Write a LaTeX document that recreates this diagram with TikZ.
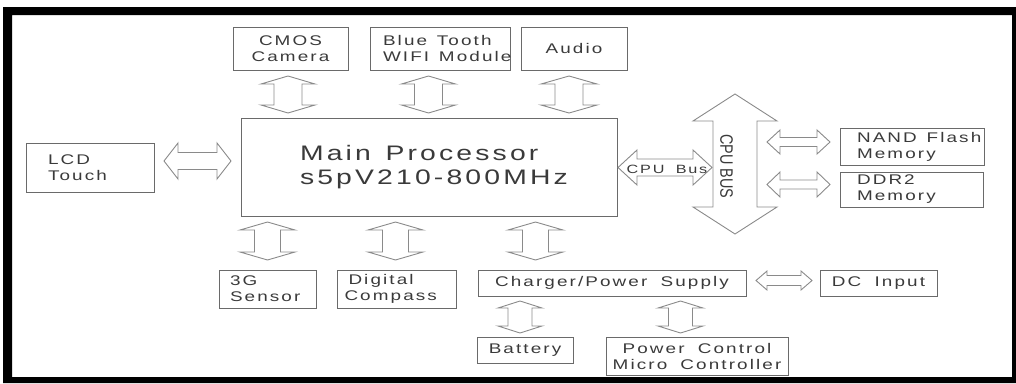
\documentclass[tikz,border=0pt]{standalone}
\usepackage{fontspec}
\setmainfont{Liberation Sans}[FakeStretch=1.35,LetterSpace=15,WordSpace=1.8]
\newfontfamily\condfont{Liberation Sans}[FakeStretch=0.8]
\definecolor{txt}{HTML}{3A3A3A}
\definecolor{boxc}{HTML}{6A6A6A}
\definecolor{arrc}{HTML}{8A8A8A}
\newcommand\wsp{\hspace{0.7em}}
% horizontal double block arrow: x1, x2, cy, shaft half, head half, head length
\newcommand\hdarr[6]{%
 \draw[blk] (#1,#3) -- ({#1+#6},{#3-#5}) -- ({#1+#6},{#3-#4}) -- ({#2-#6},{#3-#4}) -- ({#2-#6},{#3-#5}) -- (#2,#3) -- ({#2-#6},{#3+#5}) -- ({#2-#6},{#3+#4}) -- ({#1+#6},{#3+#4}) -- ({#1+#6},{#3+#5}) -- cycle;}
% vertical double block arrow: cx, y1, y2, shaft half, head half, head length
\newcommand\vdarr[6]{%
 \draw[blk] (#1,#2) -- ({#1+#5},{#2+#6}) -- ({#1+#4},{#2+#6}) -- ({#1+#4},{#3-#6}) -- ({#1+#5},{#3-#6}) -- (#1,#3) -- ({#1-#5},{#3-#6}) -- ({#1-#4},{#3-#6}) -- ({#1-#4},{#2+#6}) -- ({#1-#5},{#2+#6}) -- cycle;}
\begin{document}
\begin{tikzpicture}[x=1pt,y=-1pt,
  box/.style={draw=boxc, line width=1pt, inner sep=0pt, text=txt,
    font=\fontsize{14}{16}\selectfont, align=center},
  blk/.style={draw=arrc, line width=0.9pt, line join=miter},
  lbl/.style={text=txt, inner sep=0pt}]
\useasboundingbox (0,0) rectangle (1016,383);
\fill[black,even odd rule] (3,7) rectangle (1016,383) (12,15) rectangle (1012,377);

% top row
\node[box, minimum width=115, minimum height=43] (cmos) at (290.5,48.5) {CMOS\\Camera};
\node[box, align=left, minimum width=140, minimum height=43, text width=114, inner xsep=13] (bt) at (440,48.5) {\mbox{Blue\wsp Tooth}\\\mbox{WIFI\wsp Module}};
\node[box, minimum width=106, minimum height=43] (audio) at (574,48.5) {Audio};

% middle
\node[box, align=left, minimum width=128, minimum height=49, text width=84, inner xsep=22] (lcd) at (90,167.5) {\mbox{LCD}\\\mbox{Touch}};
\node[box, align=left, minimum width=376, minimum height=98, text width=258, inner xsep=59,
  font=\fontsize{21}{23.5}\selectfont] (main) at (429,167) {\mbox{Main\wsp Processor}\\\mbox{s5pV210-800MHz}};
\node[box, align=left, minimum width=144, minimum height=37, text width=110, inner xsep=17] (nand) at (912,146.5) {\mbox{NAND\wsp Flash}\\\mbox{Memory}};
\node[box, align=left, minimum width=143, minimum height=35, text width=109, inner xsep=17] (ddr) at (911.5,189.5) {\mbox{DDR2}\\\mbox{Memory}};

% bottom row
\node[box, align=left, minimum width=97, minimum height=38, text width=75, inner xsep=11] (g3) at (267.5,289) {\mbox{3G}\\\mbox{Sensor}};
\node[box, align=left, minimum width=119, minimum height=38, text width=104, inner xsep=7.5] (dig) at (396.5,289) {\mbox{\hspace{4pt}Digital}\\\mbox{Compass}};
\node[box, minimum width=268, minimum height=26] (chg) at (612,283) {Charger/Power Supply};
\node[box, minimum width=117, minimum height=26] (dc) at (878.5,283) {DC Input};
\node[box, minimum width=96, minimum height=26] (bat) at (525,350) {Battery};
\node[box, minimum width=182, minimum height=38] (pwr) at (697,356) {Power Control\\Micro Controller};

% block arrows
\vdarr{288}{76}{113}{14}{27}{8}
\vdarr{428.5}{76}{113}{14}{27}{8}
\vdarr{569}{76}{113}{14}{28}{8}
\vdarr{267.5}{222}{260}{13}{27.5}{8}
\vdarr{395.5}{222}{260}{13}{27.5}{8}
\vdarr{535.5}{222}{260}{13}{27.5}{8}
\vdarr{520}{301}{333}{12}{22}{7}
\vdarr{680.5}{301}{333}{12}{22.5}{7}
\vdarr{735}{94}{234}{22}{42}{27}
\hdarr{164}{231}{161}{8.5}{18}{14}
\hdarr{618}{712}{167.5}{8.5}{17.5}{19}
\hdarr{767}{830}{142}{4.5}{12}{13}
\hdarr{767}{830}{184.5}{4.5}{12.5}{13}
\hdarr{756}{812}{280.5}{5}{9.5}{11}

% arrow labels
\node[lbl, font=\fontsize{12}{14}\selectfont] (cpubus) at (667,169) {CPU Bus};
\node[lbl, font=\condfont\fontsize{18}{20}\selectfont, rotate=-90] (cpuBUS) at (726.5,166.5) {CPU BUS};
\end{tikzpicture}
\end{document}
